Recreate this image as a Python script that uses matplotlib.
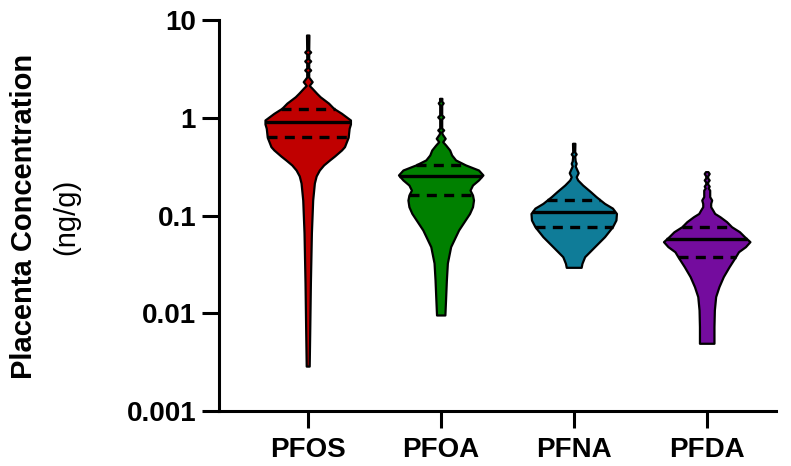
import numpy as np
import matplotlib
matplotlib.use("Agg")
import matplotlib.pyplot as plt

plt.rcParams['font.family'] = ['Liberation Sans', 'DejaVu Sans']

categories = ["PFOS", "PFOA", "PFNA", "PFDA"]
colors = ["#C00000", "#008000", "#0F7C98", "#740C9E"]

# Violin outlines: concentration (ng/g) and relative density
pfos_conc = [7.02, 4.93, 4.71, 4.49, 3.99, 3.81, 3.63, 3.23, 3.08, 2.94, 2.61, 2.34, 2.14,
             2.02, 1.78, 1.64, 1.41, 1.25, 1.11, 0.949, 0.863, 0.780, 0.631, 0.506, 0.468,
             0.406, 0.370, 0.329, 0.292, 0.254, 0.215, 0.144, 0.0662, 0.0204, 0.00628, 0.00288]
pfos_dens = [1.2, 1, 3, 1, 1, 3, 1, 1, 3, 1, 1, 4.5, 1.5,
             4, 9, 12.5, 21, 26, 34, 43, 43, 41.7, 40.7, 37, 34,
             27, 22, 16, 11.7, 8.5, 6.7, 5, 3.7, 2.7, 2, 1.5]

pfoa_conc = [1.58, 1.48, 1.42, 1.35, 1.07, 1.02, 0.971, 0.785, 0.750, 0.715, 0.682, 0.616,
             0.569, 0.526, 0.468, 0.416, 0.370, 0.329, 0.292, 0.260, 0.231, 0.205, 0.182,
             0.162, 0.144, 0.123, 0.105, 0.0711, 0.0480, 0.0327, 0.0219, 0.0148, 0.0096]
pfoa_dens = [1.2, 1, 2.5, 1, 1, 3, 1, 1, 3, 1, 1.5, 4.5,
             2, 5, 9, 11, 15, 25, 38, 42.5, 38, 32, 29.5,
             32, 33, 32, 29, 18, 10, 6.7, 5.7, 5, 4.2]

pfna_conc = [0.548, 0.447, 0.426, 0.406, 0.361, 0.342, 0.321, 0.274, 0.249, 0.231, 0.205,
             0.175, 0.156, 0.133, 0.119, 0.105, 0.0900, 0.0768, 0.0607, 0.0480, 0.0379,
             0.0324, 0.0295]
pfna_dens = [1.2, 1, 2.5, 1, 1.5, 2.5, 1.5, 4.5, 2.5, 4, 9,
             17, 22.5, 31, 39, 43, 42.5, 39, 31, 21, 11,
             8.3, 7.5]

pfda_conc = [0.281, 0.269, 0.254, 0.242, 0.231, 0.220, 0.210, 0.200, 0.191, 0.182, 0.156,
             0.144, 0.133, 0.123, 0.114, 0.105, 0.0972, 0.0865, 0.0768, 0.0682, 0.0607,
             0.0540, 0.0480, 0.0426, 0.0379, 0.0299, 0.0237, 0.0187, 0.0148, 0.0108,
             0.00728, 0.00493]
pfda_dens = [1.2, 2.5, 1, 1, 2.5, 1, 1, 2.5, 1.5, 3, 3,
             5, 4, 4, 6, 8, 13.3, 20, 25, 33, 38,
             43.5, 39, 32, 29, 22.5, 16.7, 12.3, 9, 7.7,
             7.3, 7.3]

medians = [0.91, 0.254, 0.109, 0.0575]
q1 = [0.63, 0.162, 0.077, 0.038]
q3 = [1.23, 0.329, 0.144, 0.077]

yticks = [0.001, 0.01, 0.1, 1, 10]
ytick_labels = ["0.001", "0.01", "0.1", "1", "10"]

concs = [pfos_conc, pfoa_conc, pfna_conc, pfda_conc]
denss = [pfos_dens, pfoa_dens, pfna_dens, pfda_dens]

fig = plt.figure(figsize=(7.91, 4.66), dpi=100)
ax = fig.add_axes([219/791, 1-411/466, 557/791, 391/466])
ax.set_yscale('log')
ax.set_ylim(0.001, 10)
ax.set_xlim(-0.667, 3.521)

max_half = 0.325
dmax = max(max(d) for d in denss)

for i, (c, d) in enumerate(zip(concs, denss)):
    c = np.array(c); d = np.array(d) / dmax * max_half
    ax.fill_betweenx(c, i - d, i + d, facecolor=colors[i], edgecolor='black',
                     linewidth=1.6, zorder=2)
    lc = np.log10(c)[::-1]; dd = d[::-1]
    for val, ls in [(medians[i], '-'), (q1[i], (0, (3, 2.2))), (q3[i], (0, (3, 2.2)))]:
        w = np.interp(np.log10(val), lc, dd)
        ax.plot([i - w, i + w], [val, val], color='black', lw=2.4, linestyle=ls,
                solid_capstyle='butt', dash_capstyle='butt', zorder=3)

ax.spines['top'].set_visible(False)
ax.spines['right'].set_visible(False)
for s in ['left', 'bottom']:
    ax.spines[s].set_linewidth(2.2)

ax.set_yticks(yticks)
ax.set_yticklabels(ytick_labels)
ax.yaxis.set_minor_locator(matplotlib.ticker.NullLocator())
ax.set_xticks(range(len(categories)))
ax.set_xticklabels(categories)
ax.tick_params(axis='both', length=12, width=2.2, labelsize=20, colors='black')
ax.tick_params(axis='y', pad=4.5)
ax.tick_params(axis='x', pad=7)
for lab in ax.get_xticklabels() + ax.get_yticklabels():
    lab.set_fontweight('bold')

fig.text(24/791, 1-216/466, "Placenta Concentration", rotation=90, ha='center', va='center',
         fontsize=21, fontweight='bold')
fig.text(66/791, 1-217/466, "(ng/g)", rotation=90, ha='center', va='center', fontsize=21)

fig.savefig("out.png", dpi=100)
